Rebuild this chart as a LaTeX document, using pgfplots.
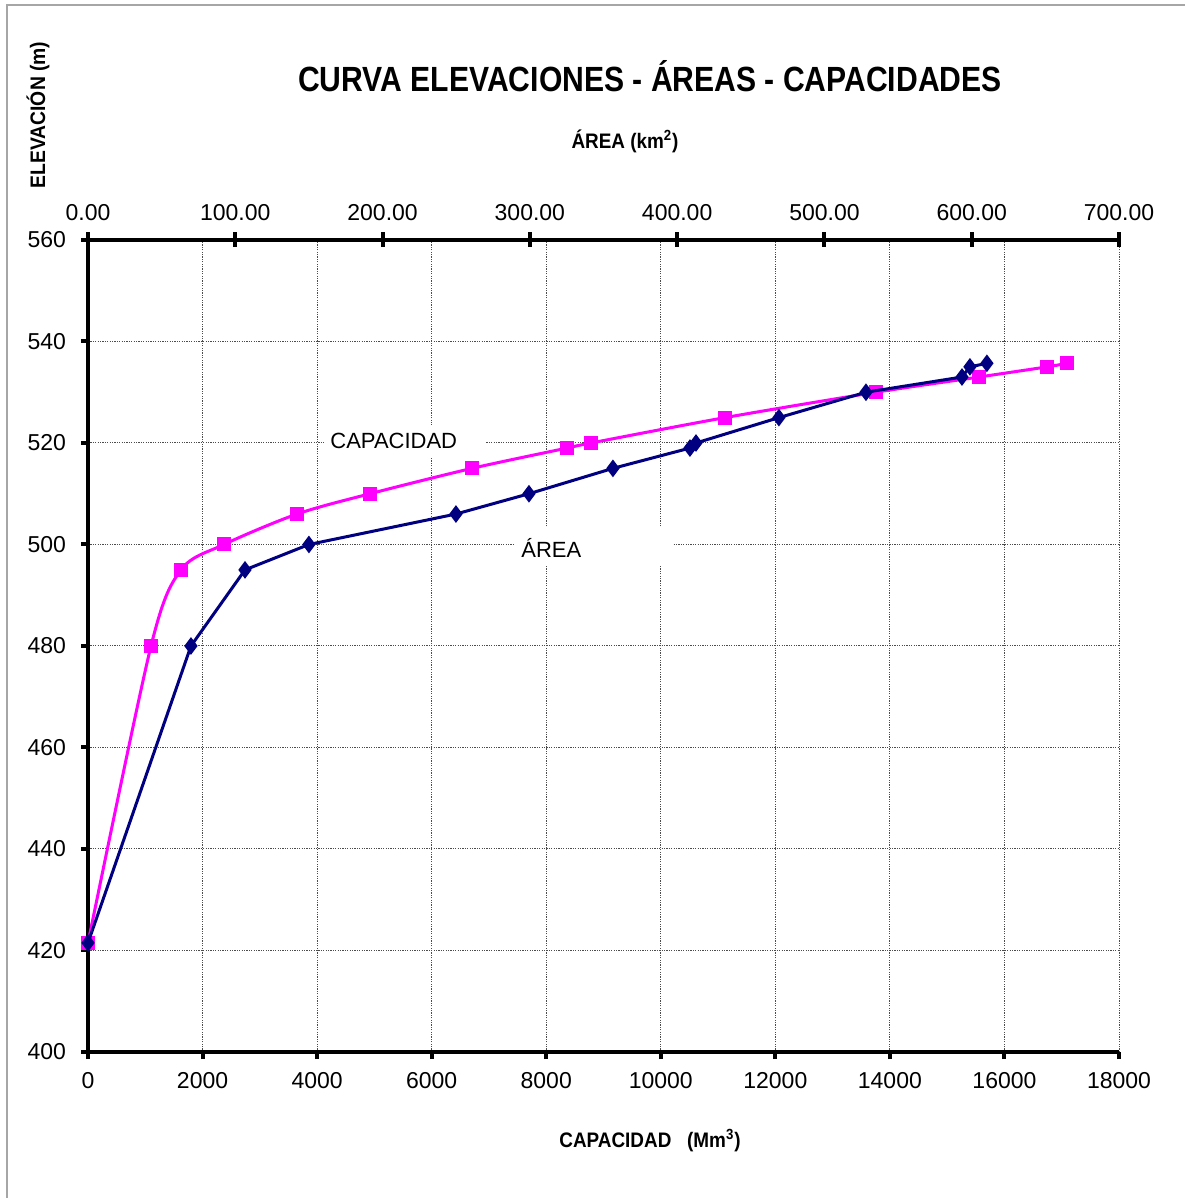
\documentclass[border=0pt]{standalone}
\usepackage{pgfplots}
\pgfplotsset{compat=1.18}
\usepackage{fontspec}
\setmainfont{Liberation Sans}
\usepackage{graphicx}
\definecolor{navyc}{RGB}{0,0,128}
\definecolor{magc}{RGB}{255,0,255}
\pgfplotstableread{
cap elev
0 421.5
1100 480
1624 495
2374 500
3649 506
4923 510
6704 515
8362 519
8781 520
11120 525
13757 530
15555 533
16742 535
17091 535.7
}\captable
\pgfplotstableread{
area elev
0 421.5
69.9 480
106.6 495
150.0 500
249.8 506
299.4 510
356.4 515
408.7 519
412.8 520
469.1 525
528.2 530
593.4 533
598.8 535
610.3 535.7
}\areatable
\begin{document}
\begin{tikzpicture}
\useasboundingbox (-44pt,-73pt) rectangle (548.5pt,526pt);
\draw[gray!70, line width=0.6pt] (-40.5pt,-73pt) -- (-40.5pt,523.5pt) -- (548.5pt,523.5pt);
\pgfplotsset{myax/.style={
  at={(0,0)}, anchor=south west, scale only axis,
  width=515.5pt, height=406pt,
  ymin=400, ymax=560, clip=false,
  scaled ticks=false,
  /pgf/number format/assume math mode=true,
  /pgf/number format/1000 sep={},
  tick label style={font=\fontsize{11.5}{13}\selectfont, black},
}}
\begin{axis}[myax,
  xmin=0, xmax=18000,
  xtick={0,2000,...,18000},
  ytick={400,420,...,560},
  axis x line*=bottom, axis y line*=left,
  x axis line style={-, line width=2.3pt},
  y axis line style={-, line width=2.3pt},
  tick align=outside, major tick length=3.5pt,
  tick style={line width=2pt, black},
  grid=major,
  grid style={black!70, line width=0.5pt, dash pattern=on 0.6pt off 0.6pt},
  xticklabel style={yshift=-3pt},
  yticklabel style={xshift=-4pt},
]
\addplot[magc, line width=1.5pt, smooth, mark=square*, mark size=2.75pt, mark options={solid, fill=magc}] table[x=cap, y=elev] {\captable};
\end{axis}
\begin{axis}[myax,
  xmin=0, xmax=700,
  xtick={0,100,...,700},
  axis x line*=top, axis y line=none,
  x axis line style={-, line width=2.3pt},
  tick align=center, major tick length=7.5pt,
  tick style={line width=2pt, black},
  /pgf/number format/fixed, /pgf/number format/fixed zerofill,
  /pgf/number format/precision=2,
  xticklabel style={yshift=2.5pt},
]
\addplot[navyc, line width=1.5pt, mark=diamond*, mark size=3.2pt, mark options={solid, fill=navyc}] table[x=area, y=elev] {\areatable};
\end{axis}
% in-plot labels with white boxes
\fill[white] (118.5pt,297pt) rectangle (198.5pt,313.5pt);
\node[anchor=west, inner sep=0pt, font=\fontsize{11}{13}\selectfont] at (121pt,305.5pt) {CAPACIDAD};
\fill[white] (213.5pt,243pt) rectangle (292.5pt,262.5pt);
\node[anchor=west, inner sep=0pt, font=\fontsize{11}{13}\selectfont] at (216.5pt,252pt) {ÁREA};
% titles
\node[inner sep=0pt] at (281pt,488pt) {\scalebox{0.86}[1]{\fontsize{17.5}{20}\selectfont\bfseries CURVA ELEVACIONES - ÁREAS - CAPACIDADES}};
\node[inner sep=0pt, font=\fontsize{10.5}{12}\selectfont\bfseries] at (268.5pt,455.5pt) {\scalebox{0.9}[1]{ÁREA (km\textsuperscript{2})}};
\node[inner sep=0pt, font=\fontsize{10.5}{12}\selectfont\bfseries] at (281pt,-44.5pt) {\scalebox{0.9}[1]{CAPACIDAD\ \ \ (Mm\textsuperscript{3})}};
\node[inner sep=0pt, rotate=90, font=\fontsize{10.5}{12}\selectfont\bfseries] at (-25pt,468.5pt) {\scalebox{0.92}[1]{ELEVACIÓN (m)}};
\end{tikzpicture}
\end{document}
